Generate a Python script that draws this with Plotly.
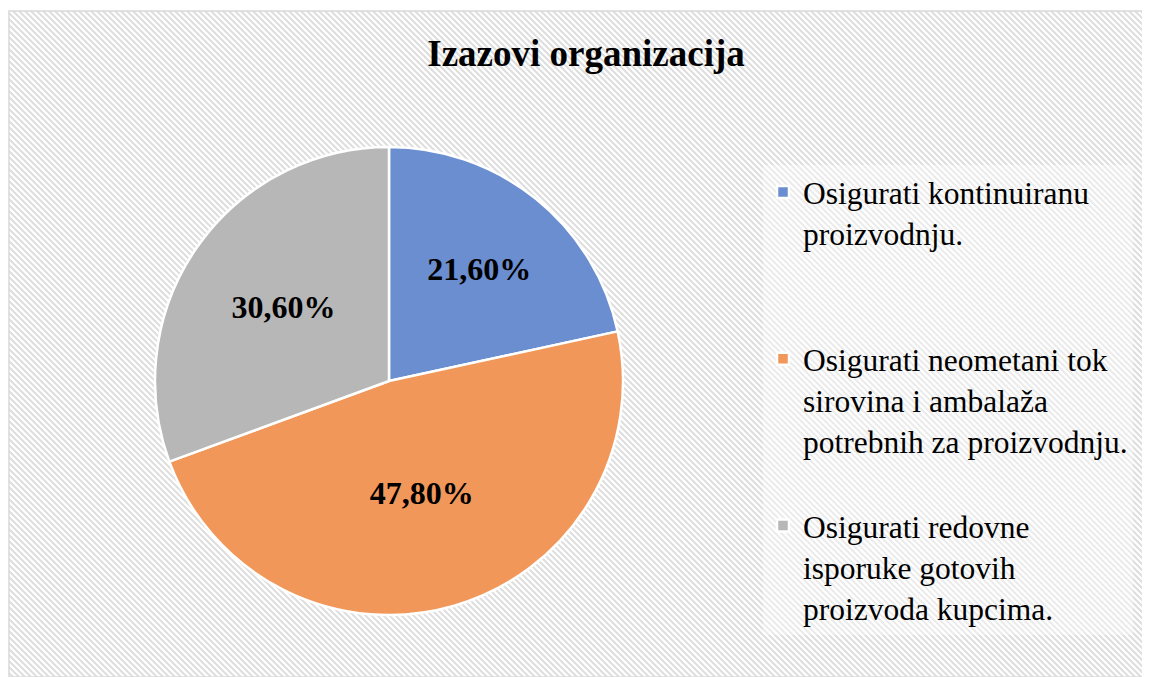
"""Pie chart: Izazovi organizacija."""

import plotly.graph_objects as go

# data
title = "Izazovi organizacija"
labels = [
    "Osigurati kontinuiranu<br>proizvodnju.<br> <br> ",
    "Osigurati neometani tok<br>sirovina i ambalaža<br>potrebnih za proizvodnju.<br> ",
    "Osigurati redovne<br>isporuke gotovih<br>proizvoda kupcima.",
]
values = [21.6, 47.8, 30.6]
colors = ["#6a8ed0", "#f1975a", "#b7b7b7"]

# the page body has an 8px margin, so the figure is a bit smaller
OFF = 8
W, H = 1150 - OFF, 677 - OFF
FONT = "Liberation Serif, Times New Roman, serif"


def px_x(x):
    return (x - OFF) / W


def px_y(y):
    return 1 - (y - OFF) / H


# hatched background inside the chart border
left, top, right, bottom = 9, 11, 1147, 677
segs = []
step = 6
c = top - right
while c < bottom - left:
    # line y = x + c, clipped to the box
    x0 = max(left, top - c)
    x1 = min(right, bottom - c)
    if x1 > x0:
        segs.append("M%.5f,%.5f L%.5f,%.5f" % (
            px_x(x0), px_y(x0 + c), px_x(x1), px_y(x1 + c)))
    c += step
hatch = " ".join(segs)

fig = go.Figure(go.Pie(
    labels=labels,
    values=values,
    sort=False,
    direction="clockwise",
    rotation=0,
    marker=dict(colors=colors, line=dict(color="white", width=2.5)),
    textinfo="value",
    texttemplate="%{value:.2f}%",
    textposition="inside",
    insidetextorientation="horizontal",
    textfont=dict(family=FONT, size=32, color="black", weight="bold"),
    hoverinfo="skip",
    domain=dict(x=[px_x(155), px_x(623)], y=[px_y(615), px_y(147)]),
))

fig.update_layout(
    width=W, height=H,
    margin=dict(l=0, r=0, t=0, b=0),
    paper_bgcolor="white",
    plot_bgcolor="white",
    separators=",.",
    title=dict(
        text="<b>%s</b>" % title,
        x=px_x(586), xanchor="center",
        y=px_y(53), yanchor="middle",
        font=dict(family=FONT, size=37, color="black"),
    ),
    legend=dict(
        x=px_x(763), xanchor="left",
        y=px_y(165), yanchor="top",
        valign="top",
        bgcolor="rgba(255,255,255,0.4)",
        font=dict(family=FONT, size=31.5, color="black"),
    ),
    shapes=[
        dict(type="path", path=hatch, xref="paper", yref="paper",
             line=dict(color="#dedede", width=2), layer="below"),
        dict(type="rect", xref="paper", yref="paper",
             x0=px_x(left), x1=px_x(right), y0=px_y(bottom), y1=px_y(top),
             line=dict(color="#d9d9d9", width=1.5), layer="below"),
    ],
)

fig.write_html("out.html")
